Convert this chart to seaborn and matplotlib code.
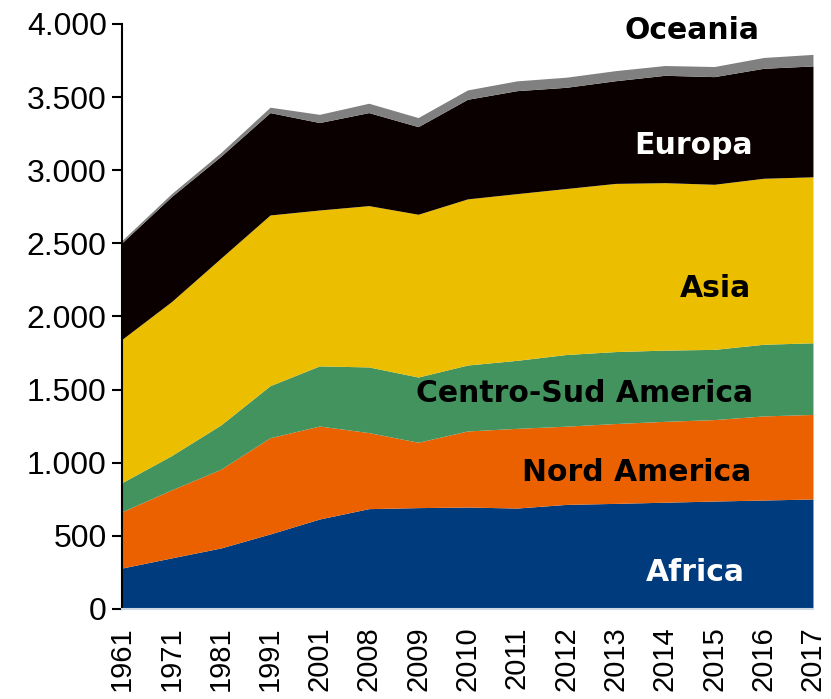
import numpy as np
import pandas as pd
import matplotlib
matplotlib.use("Agg")
import matplotlib.pyplot as plt
import seaborn as sns
from matplotlib.ticker import FuncFormatter

# data (values per region, stacked)
years = ['1961', '1971', '1981', '1991', '2001', '2008', '2009', '2010',
         '2011', '2012', '2013', '2014', '2015', '2016', '2017']
africa = [280, 349, 417, 513, 615, 686, 693, 697, 690, 715, 722, 730, 738, 745, 752]
nord_america = [385, 465, 538, 658, 636, 520, 447, 520, 545, 535, 546, 553, 557, 575, 578]
centro_sud = [199, 234, 303, 356, 411, 449, 446, 451, 465, 490, 492, 487, 480, 490, 490]
asia = [980, 1053, 1140, 1167, 1066, 1103, 1113, 1136, 1140, 1135, 1150, 1145, 1129, 1135, 1135]
europa = [661, 718, 697, 700, 598, 636, 599, 681, 704, 692, 702, 734, 736, 752, 758]
oceania = [15, 20, 25, 37, 56, 64, 62, 64, 67, 69, 69, 67, 69, 74, 79]

regions = ['Africa', 'Nord America', 'Centro-Sud America', 'Asia', 'Europa', 'Oceania']
colors = ['#003C7D', '#EB6100', '#43935E', '#EBBE00', '#0A0000', '#808080']

df = pd.DataFrame({'Africa': africa, 'Nord America': nord_america,
                   'Centro-Sud America': centro_sud, 'Asia': asia,
                   'Europa': europa, 'Oceania': oceania}, index=years)

sns.set_style("white")
plt.rcParams['font.family'] = ['Liberation Sans', 'DejaVu Sans']

fig = plt.figure(figsize=(8.31, 6.99), dpi=100)
ax = fig.add_axes([0.1468, 0.1288, 0.8315, 0.8369])

x = np.arange(len(years))
ax.stackplot(x, [df[r].values for r in regions], colors=colors, linewidth=0)

ax.set_xlim(0, len(years) - 1)
ax.set_ylim(0, 4000)
ax.set_yticks(range(0, 4001, 500))
ax.yaxis.set_major_formatter(FuncFormatter(lambda v, p: f'{int(v):,}'.replace(',', '.')))
ax.set_xticks(x)
ax.set_xticklabels(years, rotation=90)

for s in ['top', 'right']:
    ax.spines[s].set_visible(False)
ax.spines['left'].set_color('black')
ax.spines['left'].set_linewidth(1.5)
ax.spines['bottom'].set_color('#D0D8E4')
ax.spines['bottom'].set_linewidth(1.5)
ax.tick_params(axis='y', left=True, length=7, width=1.5, labelsize=23, pad=4, colors='black')
ax.tick_params(axis='x', bottom=False, labelsize=21, pad=9, colors='black')

lab_font = dict(fontsize=21.5, fontweight='bold', ha='center', va='center',
                family=['DejaVu Sans'])
ax.text(11.55, 3955, 'Oceania', color='black', **lab_font)
ax.text(11.58, 3170, 'Europa', color='white', **lab_font)
ax.text(12.02, 2190, 'Asia', color='black', **lab_font)
ax.text(9.38, 1470, 'Centro-Sud America', color='black', **lab_font)
ax.text(10.42, 935, 'Nord America', color='black', **lab_font)
ax.text(11.62, 250, 'Africa', color='white', **lab_font)

fig.savefig('out.png', dpi=100)
